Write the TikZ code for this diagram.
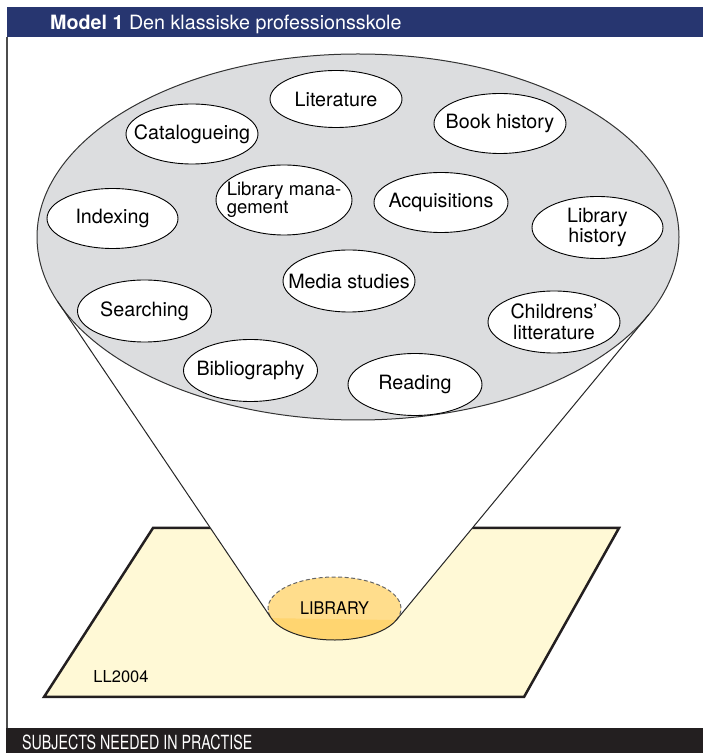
\documentclass[tikz,border=0pt]{standalone}
\usepackage{fontspec}
\setmainfont{TeX Gyre Heros}
\usepackage{graphicx}
\usetikzlibrary{shapes.geometric,calc,positioning}
\definecolor{bannerblue}{RGB}{39,54,112}
\definecolor{darkbar}{RGB}{35,31,32}
\definecolor{ellgray}{RGB}{220,221,223}
\definecolor{padyellow}{RGB}{255,249,214}
\definecolor{libtop}{RGB}{255,221,140}
\definecolor{libbot}{RGB}{255,213,112}
\tikzstyle{topic}=[ellipse, draw=black, fill=white, line width=0.9, minimum width=132, minimum height=60, inner sep=0pt]
\tikzstyle{txt}=[font=\fontsize{19.7}{20.5}\selectfont, align=center, inner sep=0pt]
\tikzstyle{l1}=[line width=1]

\begin{document}
\begin{tikzpicture}[x=1pt, y=1pt]
    \useasboundingbox (0,0) rectangle (703,753);
    % header, left rule and footer
    \fill[bannerblue] (7,716) rectangle (703,746);
    \node[anchor=base west, text=white, txt] (title) at (50,723) {\textbf{Model 1} Den klassiske professionsskole};
    \draw[line width=1.5, black!70] (7,716) -- (7,25);
    \fill[darkbar] (6,0) rectangle (703,25);
    \node[anchor=base west, text=white, inner sep=0pt] (foot) at (22,4) {\scalebox{0.73}[1]{\fontsize{19.5}{22}\selectfont SUBJECTS NEEDED IN PRACTISE}};

    % ground
    \filldraw[fill=padyellow, draw=darkbar, line width=2.5, line join=miter] (44,56) -- (153,225) -- (619,225) -- (524,56) -- cycle;
    \node[txt, font=\fontsize{16.5}{18}\selectfont] (year) at (121,76) {LL2004};

    % cone
    \coordinate (big) at (358,516);
    \coordinate (libc) at (334.5,144.5);
    \coordinate (bl) at ($(big)+(200.5:321 and 183)$);
    \coordinate (br) at ($(big)+(335:321 and 183)$);
    \coordinate (tl) at ($(libc)+(197.8:66.5 and 31.5)$);
    \coordinate (tr) at ($(libc)+(338.5:66.5 and 31.5)$);
    \fill[white] (bl) -- (tl) arc[start angle=197.8, end angle=338.5, x radius=66.5, y radius=31.5] -- (br) -- cycle;
    \draw[l1, fill=ellgray, draw=black!80] (big) ellipse [x radius=321, y radius=183];

    % library
    \fill[libtop] (libc) ellipse [x radius=66.5, y radius=31.5];
    \fill[libbot] (tl) arc[start angle=197.8, end angle=338.5, x radius=66.5, y radius=31.5] -- cycle;
    \draw[l1, dash pattern=on 4pt off 2.5pt, black!60] (tr) arc[start angle=-21.5, end angle=197.8, x radius=66.5, y radius=31.5];
    \draw[l1, black!85] (bl) -- (tl) arc[start angle=197.8, end angle=338.5, x radius=66.5, y radius=31.5] -- (br);
    \node[txt] (lib) at (334.5,144.5) {\scalebox{0.93}[1]{\fontsize{17.5}{18}\selectfont LIBRARY}};

    % subjects
    \node[topic, minimum height=57, label={[txt]center:Literature}] (lit) at (336,654) {};
    \node[topic, label={[txt]center:Catalogueing}] (cat) at (192,619) {};
    \node[topic, label={[txt]center:Book history}] (book) at (500,629.5) {};
    \node[topic, minimum width=136, minimum height=70, label={[txt, align=left, font=\fontsize{18.5}{17.5}\selectfont]center:Library mana-\\gement}] (mgmt) at (284,553) {};
    \node[topic, minimum width=134, label={[txt]center:Acquisitions}] (acq) at (441,550.5) {};
    \node[topic, minimum width=131, label={[txt]center:Indexing}] (idx) at (112.5,534.5) {};
    \node[topic, minimum width=131, minimum height=62, label={[txt]center:Library\\history}] (libhist) at (597.5,525.5) {};
    \node[topic, minimum height=62, label={[txt]center:Media studies}] (media) at (349,472) {};
    \node[topic, minimum width=134, minimum height=62, label={[txt]center:Searching}] (search) at (144.5,442) {};
    \node[topic, minimum height=62, label={[txt]center:Childrens'\\litterature}] (child) at (554,431) {};
    \node[topic, minimum width=134, minimum height=62, label={[txt]center:Bibliography}] (biblio) at (250.5,382.5) {};
    \node[topic, minimum width=134, minimum height=62, label={[txt]center:Reading}] (read) at (415,368.5) {};
\end{tikzpicture}
\end{document}
